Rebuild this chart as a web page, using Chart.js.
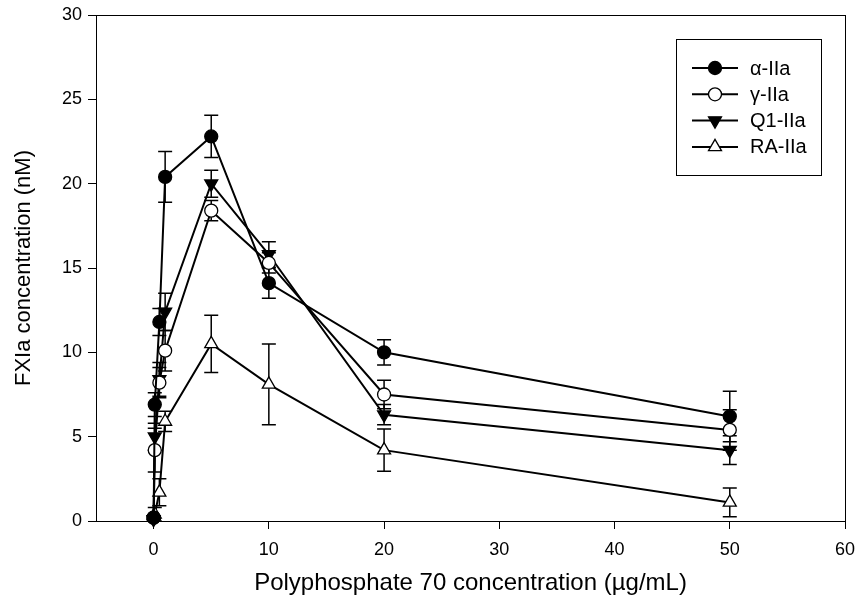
<!DOCTYPE html>
<html>
<head>
<meta charset="utf-8">
<script src="https://cdn.jsdelivr.net/npm/chart.js@4.4.0/dist/chart.umd.min.js"></script>
<style>
  html, body { margin: 0; padding: 0; background: #fff; }
</style>
</head>
<body>
<canvas id="chart" width="855" height="608"></canvas>
<script>
// polyphosphate concentration (ug/mL)
const concentrations = [0, 0.1, 0.5, 1, 5, 10, 20, 50];

// FXIa (nM) and error for each thrombin variant
const alphaIIa = [0.2, 6.9, 11.8, 20.4, 22.8, 14.1, 10.0, 6.2];
const alphaErr = [0.1, 0.7, 0.8, 1.5, 1.25, 0.9, 0.75, 1.5];
const gammaIIa = [0.2, 4.2, 8.2, 10.1, 18.4, 15.3, 7.5, 5.4];
const gammaErr = [0.1, 1.3, 0.9, 1.2, 0.6, 0.6, 0.85, 1.2];
const q1IIa = [0.1, 5.0, 8.4, 12.4, 20.0, 15.8, 6.3, 4.2];
const q1Err = [0.1, 0.8, 1.0, 1.1, 0.8, 0.75, 0.6, 0.85];
const raIIa = [0.2, 0.4, 1.7, 5.9, 10.5, 8.1, 4.2, 1.1];
const raErr = [0.1, 0.4, 0.8, 0.6, 1.7, 2.4, 1.25, 0.85];

const seriesLabels = ['\u03b1-IIa', '\u03b3-IIa', 'Q1-IIa', 'RA-IIa'];
const xTicks = [0, 10, 20, 30, 40, 50, 60];
const yTicks = [0, 5, 10, 15, 20, 25, 30];

Chart.defaults.font.family = "'Liberation Sans', Arial, sans-serif";
Chart.defaults.color = '#000';

function points(ys) {
  return concentrations.map((x, i) => ({ x: x, y: ys[i] }));
}

function series(label, ys, errs, style, filled, rotation, radius) {
  return {
    label: label,
    data: points(ys),
    errors: errs,
    borderColor: '#000',
    borderWidth: 2,
    pointStyle: style,
    pointRotation: rotation,
    pointRadius: radius,
    pointHoverRadius: radius,
    pointBorderWidth: 1.3,
    pointBorderColor: '#000',
    pointBackgroundColor: filled ? '#000' : '#fff',
    tension: 0,
    fill: false,
    clip: false
  };
}

// vertical error bars with caps, drawn under the markers
const errorBars = {
  id: 'errorBars',
  beforeDatasetsDraw(chart) {
    const ctx = chart.ctx;
    const y = chart.scales.y;
    ctx.save();
    ctx.strokeStyle = '#000';
    ctx.lineWidth = 1.5;
    chart.data.datasets.forEach((ds, di) => {
      const meta = chart.getDatasetMeta(di);
      meta.data.forEach((pt, i) => {
        const v = ds.data[i].y, e = ds.errors[i];
        const top = y.getPixelForValue(v + e);
        const bot = y.getPixelForValue(v - e);
        ctx.beginPath();
        ctx.moveTo(pt.x, top); ctx.lineTo(pt.x, bot);
        ctx.moveTo(pt.x - 7, top); ctx.lineTo(pt.x + 7, top);
        ctx.moveTo(pt.x - 7, bot); ctx.lineTo(pt.x + 7, bot);
        ctx.stroke();
      });
    });
    ctx.restore();
  }
};

// box round the plot area
const frame = {
  id: 'frame',
  beforeDatasetsDraw(chart) {
    const a = chart.chartArea, ctx = chart.ctx;
    ctx.save();
    ctx.strokeStyle = '#000';
    ctx.lineWidth = 1;
    ctx.strokeRect(a.left + 0.5, a.top + 0.5, a.right - a.left, a.bottom - a.top);
    ctx.restore();
  }
};

function marker(ctx, ds, x, y) {
  const r = ds.pointRadius;
  ctx.beginPath();
  if (ds.pointStyle === 'circle') {
    ctx.arc(x, y, r, 0, Math.PI * 2);
  } else {
    const rot = (ds.pointRotation || 0) * Math.PI / 180;
    for (let k = 0; k < 3; k++) {
      const a = rot + k * 2 * Math.PI / 3;
      const px = x + Math.sin(a) * r, py = y - Math.cos(a) * r;
      if (k === 0) ctx.moveTo(px, py); else ctx.lineTo(px, py);
    }
    ctx.closePath();
  }
  ctx.fillStyle = ds.pointBackgroundColor;
  ctx.fill();
  ctx.lineWidth = ds.pointBorderWidth;
  ctx.strokeStyle = '#000';
  ctx.stroke();
}

// boxed legend in the upper right corner
const boxLegend = {
  id: 'boxLegend',
  afterDraw(chart) {
    const a = chart.chartArea, ctx = chart.ctx;
    const left = a.right - 169, top = a.top + 24, w = 145, h = 136;
    ctx.save();
    ctx.fillStyle = '#fff';
    ctx.fillRect(left, top, w, h);
    ctx.strokeStyle = '#000';
    ctx.lineWidth = 1;
    ctx.strokeRect(left + 0.5, top + 0.5, w, h);
    ctx.font = "20px 'Liberation Sans', Arial, sans-serif";
    ctx.textBaseline = 'middle';
    chart.data.datasets.forEach((ds, i) => {
      const yy = top + 29 + i * 26.3;
      ctx.beginPath();
      ctx.strokeStyle = '#000';
      ctx.lineWidth = 2;
      ctx.moveTo(left + 16, yy); ctx.lineTo(left + 62, yy);
      ctx.stroke();
      marker(ctx, ds, left + 39, yy);
      ctx.fillStyle = '#000';
      ctx.fillText(ds.label, left + 74, yy + 1);
    });
    ctx.restore();
  }
};

new Chart(document.getElementById('chart'), {
  type: 'line',
  data: {
    datasets: [
      series(seriesLabels[0], alphaIIa, alphaErr, 'circle', true, 0, 6.5),
      series(seriesLabels[1], gammaIIa, gammaErr, 'circle', false, 0, 6.5),
      series(seriesLabels[2], q1IIa, q1Err, 'triangle', true, 180, 7.5),
      series(seriesLabels[3], raIIa, raErr, 'triangle', false, 0, 7.5)
    ]
  },
  plugins: [frame, errorBars, boxLegend],
  options: {
    responsive: false,
    animation: false,
    layout: { padding: { top: 15, right: 10, left: 0, bottom: 0 } },
    plugins: {
      legend: { display: false },
      tooltip: { enabled: false }
    },
    scales: {
      x: {
        type: 'linear',
        min: -5,
        max: 60,
        afterBuildTicks: function (s) { s.ticks = xTicks.map(v => ({ value: v })); },
        afterFit: function (s) { s.height = 87; s.paddingLeft = 0; s.paddingRight = 0; },
        grid: { drawOnChartArea: false, drawTicks: true, tickLength: 8, tickColor: '#000', tickWidth: 1 },
        border: { display: true, color: '#000', width: 1 },
        ticks: { font: { size: 18 }, color: '#000', padding: 10, maxRotation: 0 },
        title: {
          display: true,
          text: 'Polyphosphate 70 concentration (\u00b5g/mL)',
          font: { size: 24 },
          color: '#000',
          padding: { top: 0, bottom: 10 }
        }
      },
      y: {
        type: 'linear',
        min: 0,
        max: 30,
        afterBuildTicks: function (s) { s.ticks = yTicks.map(v => ({ value: v })); },
        afterFit: function (s) { s.width = 96; s.paddingTop = 0; s.paddingBottom = 0; },
        grid: { drawOnChartArea: false, drawTicks: true, tickLength: 8, tickColor: '#000', tickWidth: 1 },
        border: { display: true, color: '#000', width: 1 },
        ticks: { font: { size: 18 }, color: '#000', padding: 6 },
        title: {
          display: true,
          text: 'FXIa concentration (nM)',
          font: { size: 22 },
          color: '#000',
          padding: { top: 11, bottom: 0 }
        }
      }
    }
  }
});
</script>
</body>
</html>
